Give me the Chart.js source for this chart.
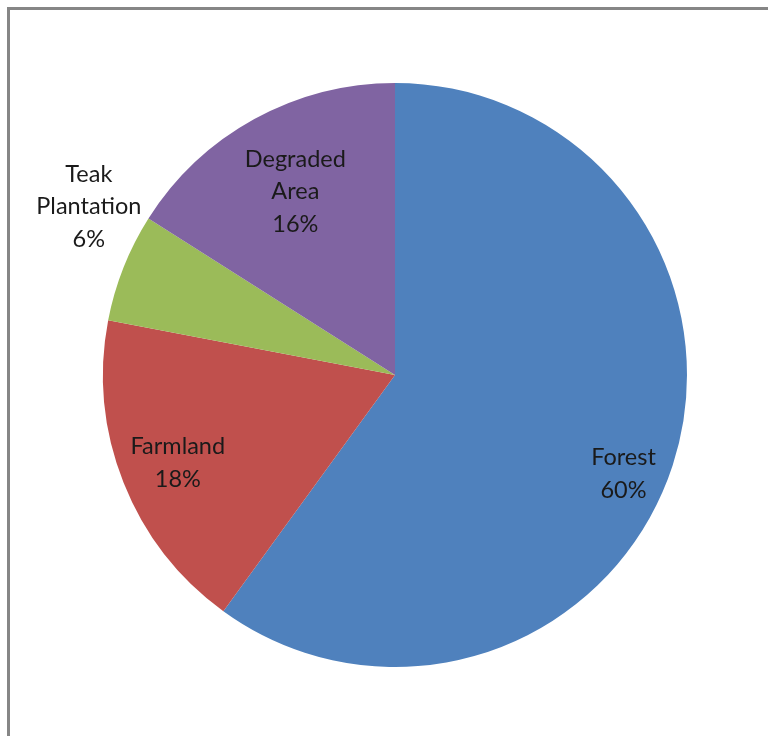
<!DOCTYPE html>
<html>
<head>
<meta charset="utf-8">
<script src="https://cdn.jsdelivr.net/npm/chart.js@4"></script>
<style>
  html, body { margin: 0; padding: 0; background: #fff; overflow: hidden; }
  #wrap { position: relative; width: 768px; height: 736px; }
</style>
</head>
<body>
<div id="wrap"><canvas id="landChart" width="768" height="736"></canvas></div>
<script>
const categories = ['Forest', 'Farmland', 'Teak Plantation', 'Degraded Area'];
const shares = [60, 18, 6, 16];
const sliceColors = ['#4F81BD', '#C0504D', '#9BBB59', '#8064A2'];

// label text lines per slice, and where each label sits (radius fraction, angle shift in degrees)
const labelLines = [['Forest', '60%'], ['Farmland', '18%'], ['Teak', 'Plantation', '6%'], ['Degraded', 'Area', '16%']];
const labelPlace = [[0.85, 5], [0.80, 0], [1.20, 7.5], [0.72, 0.5]];

// grey frame around the chart
const framePlugin = {
    id: 'frame',
    beforeDraw(chart) {
        const ctx = chart.ctx;
        ctx.save();
        ctx.fillStyle = '#fff';
        ctx.fillRect(0, 0, chart.width, chart.height);
        ctx.strokeStyle = '#868686';
        ctx.lineWidth = 3;
        ctx.beginPath();
        ctx.moveTo(8.5, chart.height + 5);
        ctx.lineTo(8.5, 8.5);
        ctx.lineTo(chart.width + 5, 8.5);
        ctx.stroke();
        ctx.restore();
    }
};

const sliceLabels = {
    id: 'sliceLabels',
    afterDatasetsDraw(chart) {
        const ctx = chart.ctx;
        const meta = chart.getDatasetMeta(0);
        ctx.save();
        ctx.font = '23.5px Lato, "Open Sans", sans-serif';
        ctx.fillStyle = '#1a1a1a';
        ctx.textAlign = 'center';
        ctx.textBaseline = 'middle';
        const lineH = 32.5;
        meta.data.forEach((arc, i) => {
            const p = arc.getProps(['x', 'y', 'startAngle', 'endAngle', 'outerRadius'], true);
            const mid = (p.startAngle + p.endAngle) / 2 + labelPlace[i][1] * Math.PI / 180;
            const r = p.outerRadius * labelPlace[i][0];
            const cx = p.x + Math.cos(mid) * r;
            const cy = p.y + Math.sin(mid) * r + 2;
            const lines = labelLines[i];
            lines.forEach((t, k) => {
                ctx.fillText(t, cx, cy + (k - (lines.length - 1) / 2) * lineH);
            });
        });
        ctx.restore();
    }
};

new Chart(document.getElementById('landChart'), {
    type: 'pie',
    data: {
        labels: categories,
        datasets: [{
            data: shares,
            backgroundColor: sliceColors,
            borderWidth: 0
        }]
    },
    options: {
        responsive: false,
        animation: false,
        layout: { padding: { top: 83, bottom: 69, left: 103, right: 81 } },
        plugins: {
            legend: { display: false },
            tooltip: { enabled: false }
        }
    },
    plugins: [framePlugin, sliceLabels]
});
</script>
</body>
</html>
